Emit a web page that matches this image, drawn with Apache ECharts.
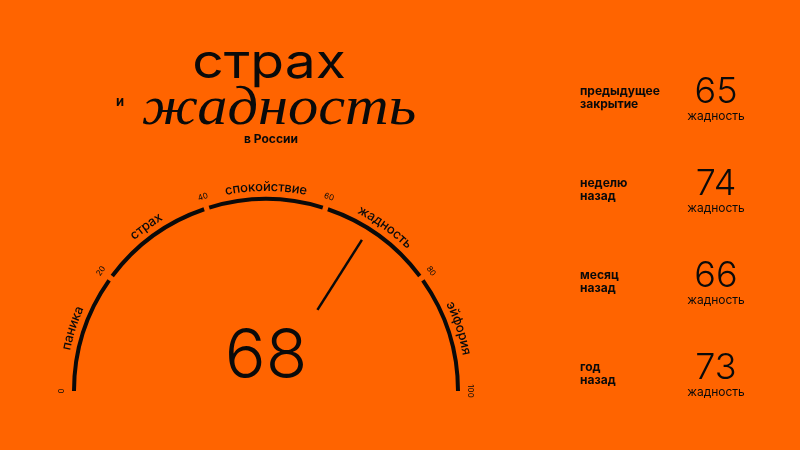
<!DOCTYPE html>
<html>
<head>
<meta charset="utf-8">
<script src="https://cdn.jsdelivr.net/npm/echarts@6/dist/echarts.min.js"></script>
<style>
html,body{margin:0;padding:0;background:#ff6400}
#chart{width:800px;height:450px}
</style>
</head>
<body>
<div id="chart"></div>
<script>
// данные
var indexValue = 68;
var zoneNames = ['паника', 'страх', 'спокойствие', 'жадность', 'эйфория'];
var zoneBounds = [0, 20, 40, 60, 80, 100];
var historyLabels = ['предыдущее\nзакрытие', 'неделю\nназад', 'месяц\nназад', 'год\nназад'];
var historyValues = [65, 74, 66, 73];
var historyMood = ['жадность', 'жадность', 'жадность', 'жадность'];

var cx = 266, cy = 391, R = 194;
var ink = '#0a0a0a';
var sans = 'Inter, "Noto Sans", sans-serif';

function angleOf(v) { return 180 - v * 1.8; }

var chart = echarts.init(document.getElementById('chart'));

// дуга по зонам с зазорами
var series = [];
for (var i = 0; i < zoneNames.length; i++) {
    series.push({
        type: 'gauge',
        center: [cx, cy],
        radius: R,
        min: zoneBounds[i],
        max: zoneBounds[i + 1],
        startAngle: angleOf(zoneBounds[i]) - (i > 0 ? 0.8 : 0),
        endAngle: angleOf(zoneBounds[i + 1]) + (i < zoneNames.length - 1 ? 0.8 : 0),
        axisLine: {lineStyle: {width: 4, color: [[1, ink]]}},
        axisTick: {show: false},
        splitLine: {show: false},
        axisLabel: {show: false},
        pointer: {show: false},
        anchor: {show: false},
        title: {show: false},
        detail: {show: false},
        silent: true,
        data: []
    });
}

// стрелка, шкала, значение
series.push({
    type: 'gauge',
    center: [cx, cy],
    radius: R,
    min: 0,
    max: 100,
    startAngle: 180,
    endAngle: 0,
    splitNumber: 5,
    axisLine: {show: false, lineStyle: {width: 0}},
    axisTick: {show: false},
    splitLine: {show: false},
    axisLabel: {distance: -30, rotate: 'tangential', color: ink, fontSize: 8, fontFamily: sans},
    pointer: {icon: 'rect', length: 83, width: 2.5, offsetCenter: [0, -96], itemStyle: {color: ink}},
    anchor: {show: false},
    title: {show: false},
    detail: {offsetCenter: [0, -33], fontSize: 68, color: ink, fontFamily: sans, fontWeight: 300, formatter: '{value}'},
    data: [{value: indexValue}]
});

// подписи зон по дуге
var ctx = document.createElement('canvas').getContext('2d');
function arcText(str, midVal, r, font) {
    ctx.font = font;
    var total = ctx.measureText(str).width;
    var a = angleOf(midVal) * Math.PI / 180 + total / 2 / r;
    var out = [], acc = 0;
    for (var k = 0; k < str.length; k++) {
        var w = ctx.measureText(str[k]).width;
        var t = a - (acc + w / 2) / r;
        acc += w;
        out.push({
            type: 'text',
            x: cx + r * Math.cos(t),
            y: cy - r * Math.sin(t),
            rotation: t - Math.PI / 2,
            style: {text: str[k], font: font, fill: ink, align: 'center', verticalAlign: 'middle'}
        });
    }
    return out;
}

var graphics = [];
for (var j = 0; j < zoneNames.length; j++) {
    graphics = graphics.concat(arcText(zoneNames[j], (zoneBounds[j] + zoneBounds[j + 1]) / 2, 204, '500 13px ' + sans));
}

// заголовок
graphics.push(
    {type: 'text', x: 269, y: 64, scaleX: 1.15, style: {text: 'страх', font: '400 48px ' + sans, fill: ink, align: 'center', verticalAlign: 'middle'}},
    {type: 'text', x: 120, y: 102, style: {text: 'и', font: '700 13px ' + sans, fill: ink, align: 'center', verticalAlign: 'middle'}},
    {type: 'text', x: 279, y: 110, scaleX: 1.12, style: {text: 'жадность', font: 'italic 400 54px "Liberation Serif", serif', fill: ink, align: 'center', verticalAlign: 'middle'}},
    {type: 'text', x: 271, y: 139, style: {text: 'в России', font: '700 12px ' + sans, fill: ink, align: 'center', verticalAlign: 'middle'}}
);

// история
for (var h = 0; h < historyValues.length; h++) {
    var y0 = 92.5 + 92 * h;
    graphics.push(
        {type: 'text', x: 580, y: y0 + 5, style: {text: historyLabels[h], font: '700 12px ' + sans, lineHeight: 13, fill: ink, align: 'left', verticalAlign: 'middle'}},
        {type: 'text', x: 716, y: y0, style: {text: String(historyValues[h]), font: '300 36px ' + sans, fill: ink, align: 'center', verticalAlign: 'middle'}},
        {type: 'text', x: 716, y: y0 + 24, style: {text: historyMood[h], font: '400 12px ' + sans, fill: ink, align: 'center', verticalAlign: 'middle'}}
    );
}

chart.setOption({
    backgroundColor: '#ff6400',
    animation: false,
    series: series,
    graphic: graphics
});
</script>
</body>
</html>
